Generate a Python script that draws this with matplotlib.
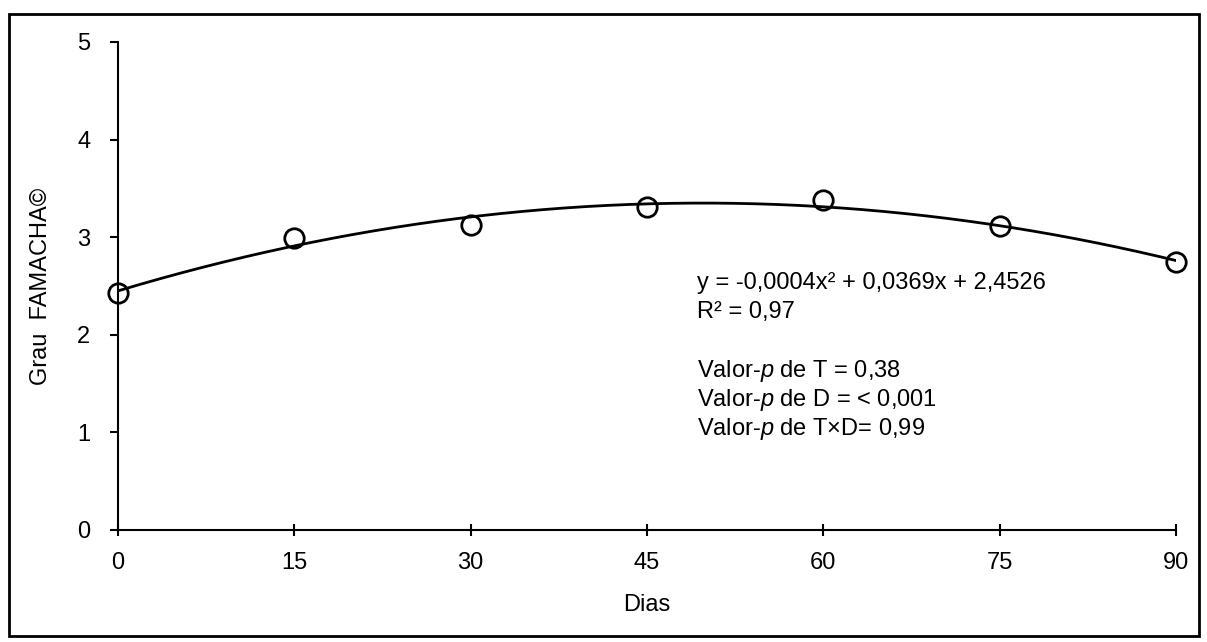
import numpy as np
import matplotlib
matplotlib.use("Agg")
import matplotlib.pyplot as plt
from matplotlib.patches import Rectangle

plt.rcParams['font.family'] = ['Liberation Sans', 'DejaVu Sans']
plt.rcParams['mathtext.fontset'] = 'custom'
plt.rcParams['mathtext.rm'] = 'Liberation Sans'
plt.rcParams['mathtext.it'] = 'Liberation Sans:italic'

dias = [0, 15, 30, 45, 60, 75, 90]
famacha = [2.43, 2.99, 3.13, 3.31, 3.38, 3.11, 2.75]
x_ticks = [0, 15, 30, 45, 60, 75, 90]
y_ticks = [0, 1, 2, 3, 4, 5]
eq_lines = ["y = -0,0004x² + 0,0369x + 2,4526", "R² = 0,97"]
p_lines = ["Valor-$p$ de T = 0,38", "Valor-$p$ de D = < 0,001", "Valor-$p$ de T×D= 0,99"]

FS = 17
W, H = 1207, 642
fig = plt.figure(figsize=(W / 100, H / 100), dpi=100)
ax = fig.add_axes([118 / W, 1 - 530 / H, (1176 - 118) / W, (530 - 42) / H])

# quadratic trendline
coef = np.polyfit(dias, famacha, 2)
xs = np.linspace(0, 90, 200)
ax.plot(xs, np.polyval(coef, xs), color='black', lw=2, zorder=2)
ax.plot(dias, famacha, 'o', ms=14, mfc='none', mec='black', mew=2, zorder=3, clip_on=False)

ax.set_xlim(0, 90)
ax.set_ylim(0, 5)
ax.set_xticks(x_ticks)
ax.set_yticks(y_ticks)
ax.tick_params(axis='y', direction='out', length=6, width=1.5, labelsize=FS, pad=14)
ax.tick_params(axis='x', direction='inout', length=8, width=1.5, labelsize=FS, pad=12)
for s in ['top', 'right']:
    ax.spines[s].set_visible(False)
for s in ['left', 'bottom']:
    ax.spines[s].set_linewidth(1.5)
ax.set_xlabel('Dias', fontsize=FS, labelpad=14)
ax.set_ylabel('Grau  FAMACHA©', fontsize=FS, labelpad=18)

tx = 697 / W
for i, t in enumerate(eq_lines):
    fig.text(tx, 1 - (283 + i * 29) / H, t, fontsize=FS, va='center')
for i, t in enumerate(p_lines):
    fig.text(tx, 1 - (371 + i * 29) / H, t, fontsize=FS, va='center')

fig.patches.append(Rectangle((9 / W, 1 - 636 / H), (1199 - 9) / W, (636 - 14) / H,
                             transform=fig.transFigure, fill=False, ec='black', lw=2))

fig.savefig('out.png', dpi=100)
